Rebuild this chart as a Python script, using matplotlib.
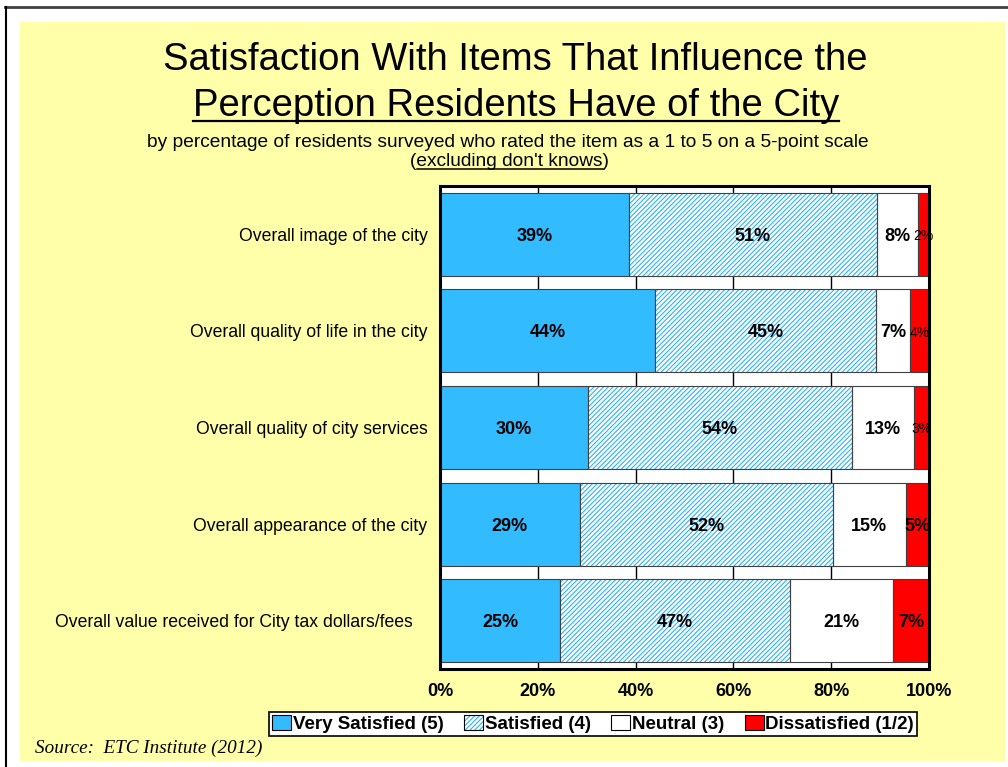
import matplotlib
matplotlib.use('Agg')
import matplotlib.pyplot as plt
from matplotlib.patches import Patch, Rectangle
from matplotlib.lines import Line2D
from matplotlib.legend_handler import HandlerTuple
from matplotlib.transforms import ScaledTranslation
import numpy as np

categories = ["Overall image of the city",
              "Overall quality of life in the city",
              "Overall quality of city services",
              "Overall appearance of the city",
              "Overall value received for City tax dollars/fees"]
very_satisfied = [38.6, 44.0, 30.2, 28.6, 24.6]
satisfied = [50.8, 45.2, 54.1, 51.7, 47.0]
neutral = [8.3, 6.9, 12.7, 15.0, 21.0]
dissatisfied = [2.3, 3.9, 3.0, 4.7, 7.4]
series_names = ["Very Satisfied (5)", "Satisfied (4)", "Neutral (3)", "Dissatisfied (1/2)"]
x_ticks = [0, 20, 40, 60, 80, 100]
x_tick_labels = ["0%", "20%", "40%", "60%", "80%", "100%"]

BLUE = '#33BBFF'
HATCH_COLOR = '#2AB4FA'
RED = '#FF0000'
EDGE = '#404040'
SANS = 'Liberation Sans'
HATCH = '///////'
plt.rcParams['hatch.linewidth'] = 0.8

W, H = 1008, 767
fig = plt.figure(figsize=(W / 100, H / 100), dpi=100)
fig.patch.set_facecolor('white')


def fx(x):
    return x / W


def fy(y):
    return 1 - y / H


fig.patches.append(Rectangle((fx(20), fy(761)), fx(1005) - fx(20), fy(22) - fy(761),
                             transform=fig.transFigure, facecolor='#FFFFAA',
                             edgecolor='none', zorder=-5))
fig.add_artist(Line2D([fx(5), 1], [fy(7), fy(7)], color='#404040', lw=2, zorder=-4))
fig.add_artist(Line2D([fx(5.5), fx(5.5)], [fy(7), 0], color='black', lw=1.5, zorder=-4))

ax = fig.add_axes([fx(440), fy(669), fx(929) - fx(440), fy(186) - fy(669)])
ax.set_zorder(2)
ax.set_facecolor('white')

ypos = np.arange(len(categories))
h = 0.86
vs = np.array(very_satisfied)
sa = np.array(satisfied)
ne = np.array(neutral)
di = np.array(dissatisfied)

ax.barh(ypos, vs, height=h, color=BLUE, edgecolor=EDGE, lw=0.8, zorder=3)
ax.barh(ypos, sa, left=vs, height=h, color='white', edgecolor=HATCH_COLOR, hatch=HATCH,
        lw=0, zorder=3)
ax.barh(ypos, sa, left=vs, height=h, fill=False, edgecolor=EDGE, lw=0.8, zorder=4)
ax.barh(ypos, ne, left=vs + sa, height=h, color='white', edgecolor=EDGE, lw=0.8, zorder=3)
ax.barh(ypos, di, left=vs + sa + ne, height=h, color=RED, edgecolor=EDGE, lw=0.8, zorder=3)

for arr, left in [(vs, 0), (sa, vs), (ne, vs + sa), (di, vs + sa + ne)]:
    for i, v in enumerate(arr):
        l = left if np.isscalar(left) else left[i]
        small = v < 4.5
        ax.text(l + v / 2, ypos[i] + 0.02, f"{v:.0f}%", ha='center', va='center',
                fontsize=10 if small else 13, fontweight='normal' if small else 'bold',
                family=SANS, zorder=6, clip_on=False)

ax.set_xlim(0, 100)
ax.set_ylim(len(categories) - 0.5, -0.5)
ax.set_xticks(x_ticks)
ax.set_xticklabels(x_tick_labels, fontsize=13, fontweight='bold', family=SANS)
ax.set_yticks(ypos)
ax.set_yticklabels(categories, fontsize=12.7, family=SANS)
ax.tick_params(axis='x', length=0, pad=10)
ax.tick_params(axis='y', length=0, pad=9)
ax.xaxis.grid(True, color='black', lw=1)
ax.set_axisbelow(True)
for s in ax.spines.values():
    s.set_linewidth(2.2)
    s.set_color('black')
    s.set_zorder(7)

ylabels = ax.get_yticklabels()
last = ylabels[-1]
last.set_transform(last.get_transform() + ScaledTranslation(-0.15, 0, fig.dpi_scale_trans))

# titles
t1 = fig.text(fx(515), fy(70), "Satisfaction With Items That Influence the",
              ha='center', va='baseline', fontsize=27.5, family=SANS)
t2 = fig.text(fx(516), fy(116), "Perception Residents Have of the City",
              ha='center', va='baseline', fontsize=27.5, family=SANS)
t3 = fig.text(fx(508), fy(147),
              "by percentage of residents surveyed who rated the item as a 1 to 5 on a 5-point scale",
              ha='center', va='baseline', fontsize=13.8, family=SANS)
t4 = fig.text(fx(510), fy(166), "(excluding don't knows)",
              ha='center', va='baseline', fontsize=13.8, family=SANS)
fig.text(fx(35), fy(748), "Source:  ETC Institute (2012)", family='Liberation Serif',
         style='italic', fontsize=13.8, va='center', ha='left')

handles = [Patch(facecolor=BLUE, edgecolor='black', lw=0.8),
           (Patch(facecolor='white', edgecolor=HATCH_COLOR, hatch=HATCH, lw=0),
            Patch(fill=False, edgecolor='black', lw=0.8)),
           Patch(facecolor='white', edgecolor='black', lw=0.8),
           Patch(facecolor=RED, edgecolor='black', lw=0.8)]
leg = fig.legend(handles, series_names, loc='center', bbox_to_anchor=(fx(593), fy(724)),
                 ncol=4, frameon=True, fancybox=False, edgecolor='black',
                 prop={'family': SANS, 'weight': 'bold', 'size': 13.5},
                 handlelength=1.0, handleheight=0.8, handletextpad=0.1,
                 columnspacing=1.1, borderpad=0.15, borderaxespad=0,
                 handler_map={tuple: HandlerTuple(ndivide=1, pad=0)})
leg.get_frame().set_linewidth(1.2)
leg.get_frame().set_facecolor('white')
leg.get_frame().set_alpha(1)

# underlines
fig.canvas.draw()
r = fig.canvas.get_renderer()
bb = t2.get_window_extent(r)
fig.add_artist(Line2D([bb.x0 / W, bb.x1 / W], [fy(120.5), fy(120.5)], color='black', lw=1.6))
bb4 = t4.get_window_extent(r)
tmp = fig.text(0, 0, "(", fontsize=13.8, family=SANS)
wp = tmp.get_window_extent(r).width
tmp.remove()
fig.add_artist(Line2D([(bb4.x0 + wp) / W, (bb4.x1 - wp) / W], [fy(168.5), fy(168.5)],
                      color='black', lw=1.1))

fig.savefig('out.png', dpi=100)
